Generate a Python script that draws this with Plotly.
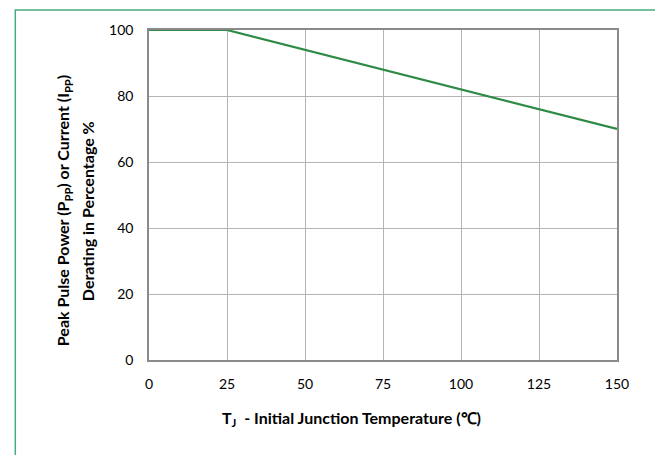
import plotly.graph_objects as go

temperature = [0, 25, 150]
derating = [100, 100, 70]
x_ticks = [0, 25, 50, 75, 100, 125, 150]
y_ticks = [0, 20, 40, 60, 80, 100]

FONT = "Lato, Carlito, Calibri, sans-serif"

fig = go.Figure()
fig.add_trace(go.Scatter(
    x=temperature, y=derating, mode="lines",
    line=dict(color="#2e8b45", width=2.2),
    showlegend=False, hoverinfo="skip",
))

fig.update_layout(
    width=663, height=455,
    margin=dict(l=141, r=54, t=22, b=103),
    paper_bgcolor="white", plot_bgcolor="white",
    font=dict(family=FONT, size=13, color="#000000"),
    xaxis=dict(
        range=[0, 150], tickvals=x_ticks, ticktext=[str(v) for v in x_ticks],
        showgrid=True, gridcolor="#b4b4b4", gridwidth=1,
        showline=True, linecolor="#8a8a8a", linewidth=1.5, mirror=True,
        zeroline=False, ticks="", ticklabelstandoff=10,
        tickfont=dict(family=FONT, size=14),
    ),
    yaxis=dict(
        range=[0, 100], tickvals=y_ticks, ticktext=[str(v) for v in y_ticks],
        showgrid=True, gridcolor="#b4b4b4", gridwidth=1,
        showline=True, linecolor="#8a8a8a", linewidth=1.5, mirror=True,
        zeroline=False, ticks="", ticklabelstandoff=11,
        tickfont=dict(family=FONT, size=14),
    ),
    shapes=[dict(
        type="rect", xref="paper", yref="paper",
        x0=-0.2857, x1=1.0896, y0=-0.4, y1=1.0606,
        line=dict(color="#45ad7e", width=1.5), fillcolor="rgba(0,0,0,0)",
        layer="below",
    )],
    annotations=[
        dict(
            text="<b>Peak Pulse Power (P<sub>PP</sub>) or Current (I<sub>PP</sub>)</b>",
            xref="paper", yref="paper", x=-0.1834, y=0.4515,
            xanchor="center", yanchor="middle", textangle=-90,
            showarrow=False, font=dict(family=FONT, size=16),
        ),
        dict(
            text="<b>Derating in Percentage %</b>",
            xref="paper", yref="paper", x=-0.1322, y=0.4515,
            xanchor="center", yanchor="middle", textangle=-90,
            showarrow=False, font=dict(family=FONT, size=16),
        ),
        dict(
            text="<b>T<sub>J</sub>  - Initial Junction Temperature (℃)</b>",
            xref="paper", yref="paper", x=0.4328, y=-0.1758,
            xanchor="center", yanchor="middle",
            showarrow=False, font=dict(family=FONT, size=16),
        ),
    ],
)

fig.write_html("out.html")
